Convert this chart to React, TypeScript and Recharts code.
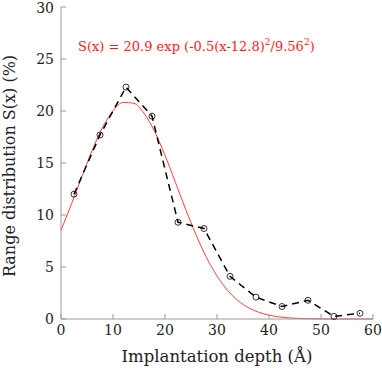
import { LineChart, Line, XAxis, YAxis } from 'recharts';

// measured range distribution (open circles, dashed)
const depthBins = [2.5, 7.5, 12.5, 17.5, 22.5, 27.5, 32.5, 37.5, 42.5, 47.5, 52.5, 57.5];
const rangeValues = [12.0, 17.7, 22.3, 19.5, 9.3, 8.7, 4.1, 2.1, 1.2, 1.8, 0.25, 0.55];

// gaussian fit curve
const fitDepths = [0, 2, 4, 6, 8, 10, 12, 14, 16, 18, 20, 22, 24, 26, 28, 30, 32, 34, 36, 38, 40, 42, 44, 46, 48, 50, 52, 54, 56, 58, 60];
const fitValues = [8.53, 11.04, 13.68, 16.23, 18.43, 20.02, 20.83, 20.74, 19.76, 18.03, 15.74, 13.15, 10.52, 8.06, 5.9, 4.14, 2.78, 1.79, 1.1, 0.65, 0.37, 0.2, 0.1, 0.05, 0.02, 0.01, 0, 0, 0, 0, 0];

const xTicks = [0, 10, 20, 30, 40, 50, 60];
const yTicks = [0, 5, 10, 15, 20, 25, 30];

const measured = depthBins.map((x, i) => ({ x, y: rangeValues[i] }));
const fit = fitDepths.map((x, i) => ({ x, y: fitValues[i] }));

const FONT = '"DejaVu Serif", serif';
const AXIS = '#999';
const INK = '#222';

export default function App() {
  return (
    <div style={{ position: 'fixed', left: 0, top: 0, width: 382, height: 369, background: '#fff' }}>
      <LineChart width={382} height={369} margin={{ top: 7, right: 9, left: 0, bottom: 0 }}>
        <XAxis
          xAxisId="b"
          dataKey="x"
          type="number"
          domain={[0, 60]}
          ticks={xTicks}
          height={50}
          stroke={AXIS}
          tickSize={-5}
          tickMargin={11}
          tick={{ fill: INK, fontSize: 14, fontFamily: FONT }}
        />
        <XAxis
          xAxisId="t"
          orientation="top"
          dataKey="x"
          type="number"
          domain={[0, 60]}
          ticks={xTicks}
          height={0}
          stroke={AXIS}
          tickSize={-5}
          tickFormatter={() => ''}
        />
        <YAxis
          yAxisId="l"
          type="number"
          domain={[0, 30]}
          ticks={yTicks}
          width={61}
          stroke={AXIS}
          tickSize={-5}
          tickMargin={12}
          tick={{ fill: INK, fontSize: 14, fontFamily: FONT }}
        />
        <YAxis
          yAxisId="r"
          orientation="right"
          type="number"
          domain={[0, 30]}
          ticks={yTicks}
          width={0}
          stroke={AXIS}
          tickSize={-5}
          tickFormatter={() => ''}
        />
        <Line
          xAxisId="b"
          yAxisId="l"
          data={fit}
          dataKey="y"
          type="monotone"
          stroke="#ff4040"
          strokeWidth={1}
          dot={false}
          isAnimationActive={false}
        />
        <Line
          xAxisId="b"
          yAxisId="l"
          data={measured}
          dataKey="y"
          type="linear"
          stroke="#000"
          strokeWidth={1.5}
          strokeDasharray="7 5"
          dot={{ r: 3, stroke: '#000', strokeWidth: 0.8, fill: 'none', strokeDasharray: '0' }}
          isAnimationActive={false}
        />
      </LineChart>
      <svg width={382} height={369} style={{ position: 'absolute', left: 0, top: 0, pointerEvents: 'none' }}>
        <text x={78} y={51} fill="#ff1a1a" fontSize={13} fontFamily={FONT}>
          S(x) = 20.9 exp (-0.5(x-12.8)
          <tspan dy={-6} fontSize={9}>2</tspan>
          <tspan dy={6}>/9.56</tspan>
          <tspan dy={-6} fontSize={9}>2</tspan>
          <tspan dy={6}>)</tspan>
        </text>
        <text x={217} y={362} textAnchor="middle" fill={INK} fontSize={16.5} fontFamily={FONT}>
          Implantation depth (Å)
        </text>
        <text x={15} y={166} transform="rotate(-90 15 166)" textAnchor="middle" fill={INK} fontSize={16} fontFamily={FONT}>
          Range distribution S(x) (%)
        </text>
      </svg>
    </div>
  );
}
